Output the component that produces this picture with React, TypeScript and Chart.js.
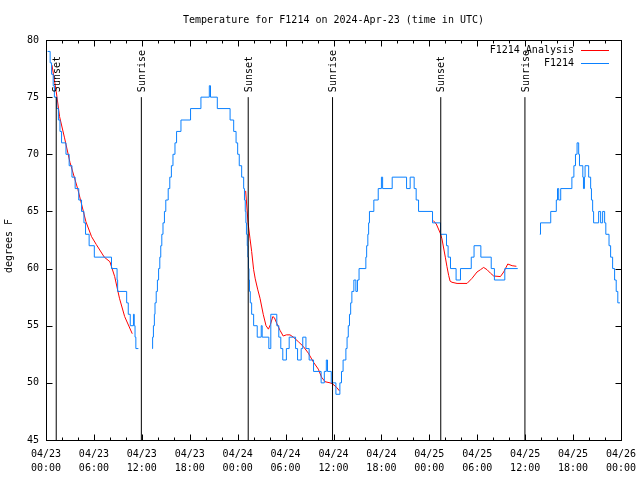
import { useEffect, useRef } from "react";
import { Chart, registerables } from "chart.js";

Chart.register(...registerables);

// ---------- text ----------
const titleText = "Temperature for F1214 on 2024-Apr-23 (time in UTC)";
const yAxisLabel = "degrees F";
const analysisLabel = "F1214 Analysis";
const observedLabel = "F1214";
const monthText = "04";
const firstDay = 23;

// ---------- axes ----------
const xMinHours = 0;
const xMaxHours = 72;
const xTickStepHours = 2;
const xLabelEveryHours = 6;
const yMin = 45;
const yMax = 80;
const yStep = 5;

// ---------- sun events (hours since 04/23 00:00 UTC) ----------
const sunsetHours = [1.28, 25.32, 49.43];
const sunriseHours = [11.94, 35.88, 59.97];
const sunMarkerTop = 75;

// ---------- observed F1214 (hour, degF) step starts ----------
const observedNight1: [number, number][] = [
  [0.2, 79], [0.52, 78], [0.7, 77], [0.9, 76], [1.05, 75], [1.35, 74], [1.55, 73], [1.75, 72],
  [1.95, 71], [2.5, 70], [2.9, 69], [3.25, 68], [3.65, 67], [4.1, 66], [4.45, 65], [4.75, 64],
  [4.95, 63], [5.4, 62], [6.05, 61], [8.2, 60], [8.9, 59], [8.97, 58], [10.1, 57], [10.3, 56],
  [10.55, 55], [10.95, 56], [11.05, 55], [11.15, 54], [11.25, 53], [11.57, 53],
];
const observedDay1: [number, number][] = [
  [13.28, 53], [13.35, 54], [13.45, 55], [13.57, 56], [13.65, 57], [13.8, 58], [13.95, 59],
  [14.1, 60], [14.25, 61], [14.37, 62], [14.5, 63], [14.65, 64], [14.83, 65], [15.0, 66],
  [15.3, 67], [15.5, 68], [15.7, 69], [15.9, 70], [16.15, 71], [16.35, 72], [16.9, 73],
  [18.1, 74], [19.4, 75], [20.45, 76], [20.6, 75], [21.45, 74], [23.05, 73], [23.5, 72],
  [23.8, 71], [24.0, 70], [24.2, 69], [24.5, 68], [24.75, 67], [24.85, 66], [24.95, 65],
];
const observedNight2: [number, number][] = [
  [25.03, 64], [25.1, 63], [25.2, 62], [25.28, 61], [25.35, 60], [25.42, 59], [25.48, 58],
  [25.58, 57], [25.75, 56], [26.0, 55], [26.45, 54], [26.95, 55], [27.07, 54], [27.9, 53],
  [28.15, 56], [28.9, 55], [29.15, 54], [29.4, 53], [29.65, 52], [30.1, 53], [30.45, 54],
  [31.25, 53], [31.5, 52], [31.95, 53], [32.15, 54], [32.55, 53], [32.95, 52], [33.5, 51],
  [34.45, 50], [34.85, 51], [35.1, 52], [35.25, 51], [35.72, 50], [36.3, 49],
];
const observedDay2: [number, number][] = [
  [36.8, 50], [37.0, 51], [37.2, 52], [37.55, 53], [37.7, 54], [37.85, 55], [38.0, 56],
  [38.15, 57], [38.3, 58], [38.55, 59], [38.8, 58], [39.0, 59], [39.2, 60], [40.05, 61],
  [40.15, 62], [40.3, 63], [40.4, 64], [40.5, 65], [41.05, 66], [41.6, 67], [42.0, 68],
  [42.15, 67], [43.35, 68], [45.15, 67], [45.6, 68], [46.1, 67], [46.35, 66], [46.65, 65],
];
const observedNight3: [number, number][] = [
  [48.4, 64], [49.4, 63], [50.15, 62], [50.35, 61], [50.65, 60], [51.35, 59], [51.9, 60],
  [53.25, 61], [53.6, 62], [54.45, 61], [55.75, 60], [56.15, 59], [57.45, 60], [59.07, 60],
];
const observedDay3: [number, number][] = [
  [61.83, 63], [61.92, 64], [63.2, 65], [63.9, 66], [64.05, 67], [64.2, 66], [64.45, 67],
  [65.85, 68], [66.1, 69], [66.3, 70], [66.5, 71], [66.7, 70], [66.8, 69], [67.22, 68],
  [67.3, 67], [67.42, 68], [67.5, 69], [67.95, 68], [68.2, 67], [68.3, 66], [68.45, 65],
  [68.57, 64], [69.2, 65], [69.45, 64], [69.7, 65], [69.95, 64], [70.1, 63], [70.5, 62],
  [70.7, 61], [70.95, 60], [71.2, 59], [71.4, 58], [71.6, 57], [71.87, 57],
];

// ---------- F1214 analysis (hour, degF) ----------
const analysisNight1: [number, number][] = [
  [0.75, 77.8], [1.28, 75.5], [1.7, 73.3], [2.3, 71.5], [3.0, 69.3], [4.0, 66.9], [5.0, 64.1],
  [5.7, 62.8], [6.3, 62.1], [7.3, 61.0], [8.0, 60.6], [8.6, 59.3], [9.2, 57.4], [9.85, 55.8],
  [10.8, 54.3],
];
const analysisNight2: [number, number][] = [
  [25.0, 66.8], [25.3, 64.0], [25.55, 62.6], [25.75, 61.5], [26.0, 59.9], [26.2, 59.1],
  [26.5, 58.2], [26.8, 57.4], [27.2, 56.0], [27.55, 55.0], [27.85, 54.7], [28.1, 55.1],
  [28.4, 55.8], [28.6, 55.7], [28.9, 55.2], [29.3, 54.6], [29.7, 54.1], [30.1, 54.2],
  [30.55, 54.2], [30.97, 54.0], [31.6, 53.6], [32.2, 53.2], [32.85, 52.6], [33.5, 51.8],
  [34.1, 51.2], [34.5, 50.5], [34.94, 50.1], [35.57, 50.0], [35.9, 49.9], [36.4, 49.6],
  [36.74, 49.3],
];
const analysisNight3: [number, number][] = [
  [48.5, 64.2], [48.87, 63.9], [49.37, 63.1], [49.58, 62.6], [50.0, 61.0], [50.2, 60.2],
  [50.42, 59.4], [50.6, 58.9], [50.84, 58.8], [51.47, 58.7], [52.72, 58.7], [53.35, 59.15],
  [53.97, 59.7], [54.4, 59.9], [54.8, 60.1], [55.23, 59.9], [55.65, 59.6], [56.06, 59.35],
  [56.9, 59.3], [57.31, 59.7], [57.82, 60.4], [58.37, 60.25], [58.9, 60.2],
];

// ---------- styles ----------
const FONT_FAMILY = "'DejaVu Sans Mono', 'Liberation Mono', monospace";
const FONT_SIZE = 10;
const RED = "#ff0000";
const BLUE = "#0a80ff";

type Pt = { x: number; y: number | null };
const joinSegments = (segs: [number, number][][]): Pt[] => {
  const out: Pt[] = [];
  segs.forEach((seg, i) => {
    if (i > 0) out.push({ x: (out[out.length - 1].x + seg[0][0]) / 2, y: null });
    seg.forEach(([x, y]) => out.push({ x, y }));
  });
  return out;
};

const observedData = joinSegments([
  [...observedNight1],
  [...observedDay1, ...observedNight2, ...observedDay2, ...observedNight3],
  [...observedDay3],
]);
const analysisData = joinSegments([analysisNight1, analysisNight2, analysisNight3]);

const sunEvents = [
  ...sunsetHours.map((h) => ({ h, label: "Sunset" })),
  ...sunriseHours.map((h) => ({ h, label: "Sunrise" })),
].sort((a, b) => a.h - b.h);

const sunLineData: Pt[] = [];
sunEvents.forEach((e) => {
  sunLineData.push({ x: e.h, y: yMin }, { x: e.h, y: sunMarkerTop }, { x: e.h, y: null });
});

const fmtLabel = (v: number): string | string[] => {
  if (Math.abs(v % xLabelEveryHours) > 1e-6) return "";
  const day = firstDay + Math.floor(v / 24);
  const hh = Math.round(v % 24);
  return [`${monthText}/${day}`, `${String(hh).padStart(2, "0")}:00`];
};

const framePlugin = {
  id: "gnuplotFrame",
  afterDraw(chart: any) {
    const { ctx, chartArea: a } = chart;
    const xs = chart.scales.x;
    const ys = chart.scales.y;
    const L = Math.round(a.left) + 0.5;
    const R = Math.round(a.right) + 0.5;
    const T = Math.round(a.top) + 0.5;
    const B = Math.round(a.bottom) + 0.5;
    ctx.save();
    ctx.strokeStyle = "#000";
    ctx.lineWidth = 1;
    ctx.beginPath();
    for (let v = xMinHours; v <= xMaxHours + 1e-6; v += xTickStepHours) {
      const px = Math.round(xs.getPixelForValue(v)) + 0.5;
      const len = Math.abs(v % xLabelEveryHours) < 1e-6 ? 6 : 3;
      ctx.moveTo(px, B);
      ctx.lineTo(px, B - len);
      ctx.moveTo(px, T);
      ctx.lineTo(px, T + len);
    }
    for (let v = yMin; v <= yMax + 1e-6; v += yStep) {
      const py = Math.round(ys.getPixelForValue(v)) + 0.5;
      ctx.moveTo(L, py);
      ctx.lineTo(L + 6, py);
      ctx.moveTo(R, py);
      ctx.lineTo(R - 6, py);
    }
    ctx.stroke();
    ctx.strokeRect(L, T, R - L, B - T);

    ctx.fillStyle = "#000";
    ctx.font = `${FONT_SIZE}px ${FONT_FAMILY}`;

    sunEvents.forEach((e) => {
      const px = xs.getPixelForValue(e.h) + 1;
      const py = ys.getPixelForValue(sunMarkerTop) - 5;
      ctx.save();
      ctx.translate(px, py);
      ctx.rotate(-Math.PI / 2);
      ctx.textAlign = "left";
      ctx.textBaseline = "middle";
      ctx.fillText(e.label, 0, 0);
      ctx.restore();
    });

    ctx.textAlign = "center";
    ctx.textBaseline = "middle";
    ctx.fillText(titleText, (a.left + a.right) / 2, 20.5);

    ctx.save();
    ctx.translate(9.5, (a.top + a.bottom) / 2 + 6);
    ctx.rotate(-Math.PI / 2);
    ctx.fillText(yAxisLabel, 0, 0);
    ctx.restore();

    const entries = [
      { label: analysisLabel, color: RED },
      { label: observedLabel, color: BLUE },
    ];
    entries.forEach((en, i) => {
      const ly = 50 + i * 13.3;
      ctx.textAlign = "right";
      ctx.fillStyle = "#000";
      ctx.fillText(en.label, a.right - 47, ly);
      ctx.strokeStyle = en.color;
      ctx.beginPath();
      ctx.moveTo(a.right - 40, Math.round(ly) + 0.5);
      ctx.lineTo(a.right - 12, Math.round(ly) + 0.5);
      ctx.stroke();
    });
    ctx.restore();
  },
};

export default function App() {
  const canvasRef = useRef<HTMLCanvasElement | null>(null);

  useEffect(() => {
    if (!canvasRef.current) return;
    const tickFont = { family: FONT_FAMILY, size: FONT_SIZE, lineHeight: "14px" };
    const chart = new Chart(canvasRef.current, {
      type: "line",
      data: {
        datasets: [
          {
            label: "sun",
            data: sunLineData as any,
            borderColor: "#000",
            borderWidth: 1,
            pointRadius: 0,
            spanGaps: false,
            order: 0,
          },
          {
            label: observedLabel,
            data: observedData as any,
            borderColor: BLUE,
            borderWidth: 1,
            pointRadius: 0,
            stepped: true,
            spanGaps: false,
            order: 1,
          },
          {
            label: analysisLabel,
            data: analysisData as any,
            borderColor: RED,
            borderWidth: 1,
            pointRadius: 0,
            tension: 0,
            spanGaps: false,
            order: 2,
          },
        ],
      },
      options: {
        animation: false,
        responsive: false,
        devicePixelRatio: 1,
        layout: { padding: { top: 40, right: 19, left: 0, bottom: 0 } },
        plugins: {
          legend: { display: false },
          title: { display: false },
          tooltip: { enabled: false },
        },
        events: [],
        scales: {
          x: {
            type: "linear",
            min: xMinHours,
            max: xMaxHours,
            grid: { display: false, drawTicks: false },
            border: { display: false },
            ticks: {
              stepSize: xTickStepHours,
              autoSkip: false,
              maxRotation: 0,
              minRotation: 0,
              maxTicksLimit: 200,
              padding: 7,
              color: "#000",
              font: tickFont as any,
              callback: (v: any) => fmtLabel(Number(v)),
            },
            afterFit: (s: any) => {
              s.height = 40;
              s.paddingLeft = 0;
              s.paddingRight = 0;
            },
          },
          y: {
            type: "linear",
            min: yMin,
            max: yMax,
            grid: { display: false, drawTicks: false },
            border: { display: false },
            ticks: {
              stepSize: yStep,
              padding: 7,
              color: "#000",
              font: tickFont as any,
            },
            afterFit: (s: any) => {
              s.width = 46;
              s.paddingTop = 0;
              s.paddingBottom = 0;
            },
          },
        },
      },
      plugins: [framePlugin],
    });
    return () => chart.destroy();
  }, []);

  return (
    <div style={{ position: "fixed", left: 0, top: 0, width: 640, height: 480, background: "#fff" }}>
      <canvas ref={canvasRef} width={640} height={480} />
    </div>
  );
}
